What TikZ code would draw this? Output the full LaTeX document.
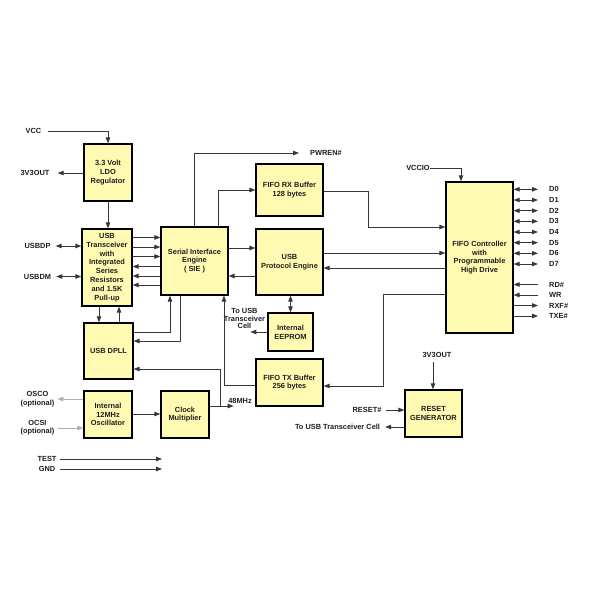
\documentclass[tikz,border=0pt]{standalone}
\usepackage{fontspec}
\setmainfont{Liberation Sans}
\usetikzlibrary{arrows.meta,calc}
\definecolor{boxfill}{RGB}{255,250,178}
\definecolor{ln}{RGB}{55,55,55}
\definecolor{lg}{RGB}{175,175,175}
\definecolor{tx}{RGB}{30,30,30}
\tikzset{
 blk/.style={draw=black, line width=1.2pt, fill=boxfill, inner sep=0pt, align=center, text=tx, font=\fontsize{7.4}{8.8}\selectfont\bfseries},
 lbl/.style={inner sep=0pt, align=center, text=tx, font=\fontsize{7.4}{8.5}\selectfont\bfseries},
 conn/.style={draw=ln, line width=0.9pt},
 arr/.style={conn, -{Triangle[length=6pt,width=4.5pt]}},
 darr/.style={conn, {Triangle[length=6pt,width=4.5pt]}-{Triangle[length=6pt,width=4.5pt]}},
 garr/.style={draw=lg, line width=0.9pt, -{Triangle[length=6pt,width=4.5pt]}},
}
\begin{document}
\begin{tikzpicture}[x=1pt,y=-1pt]
\fill[white] (0,0) rectangle (600,600);
\useasboundingbox (0,0) rectangle (600,600);

% blocks
\node[blk, minimum width=48, minimum height=57] (ldo) at (108,172.5) {3.3 Volt\\LDO\\Regulator};
\node[blk, minimum width=50, minimum height=77] (trx) at (107,267.5) {USB\\Transceiver\\with\\Integrated\\Series\\Resistors\\and 1.5K\\Pull-up};
\node[blk, minimum width=49, minimum height=56] (dpll) at (108.5,351) {USB DPLL};
\node[blk, minimum width=48, minimum height=47] (osc) at (108,414.5) {Internal\\12MHz\\Oscillator};
\node[blk, minimum width=48, minimum height=47] (clk) at (185,414.5) {Clock\\Multiplier};
\node[blk, minimum width=67, minimum height=68] (sie) at (194.5,261) {Serial Interface\\Engine\\( SIE )};
\node[blk, minimum width=67, minimum height=52] (rx) at (289.5,190) {FIFO RX Buffer\\128 bytes};
\node[blk, minimum width=67, minimum height=66] (upe) at (289.5,262) {USB\\Protocol Engine};
\node[blk, minimum width=45, minimum height=38] (eep) at (290.5,332) {Internal\\EEPROM};
\node[blk, minimum width=67, minimum height=47] (tx) at (289.5,382.5) {FIFO TX Buffer\\256 bytes};
\node[blk, minimum width=67, minimum height=151] (fifo) at (479.5,257.5) {FIFO Controller\\with\\Programmable\\High Drive};
\node[blk, minimum width=57, minimum height=47] (rst) at (433.5,413.5) {RESET\\GENERATOR};

% left side labels
\node[lbl] (vcc) at (33.5,131) {VCC};
\draw[arr] ($(vcc.east)+(6,0)$) -| (ldo.north);
\node[lbl] (v3) at (35,173) {3V3OUT};
\draw[arr] (ldo.west |- v3) -- ($(v3.east)+(8,0)$);
\draw[arr] (ldo.south) -- (trx.north -| ldo.south);
\node[lbl] (dp) at (37.5,246) {USBDP};
\draw[darr] ($(dp.east)+(5,0)$) -- (trx.west |- dp);
\node[lbl] (dm) at (37.5,276.5) {USBDM};
\draw[darr] ($(dm.east)+(5,0)$) -- (trx.west |- dm);

% transceiver <-> SIE
\foreach \y in {237.5,247,256.5} \draw[arr] (trx.east |- 0,\y) -- (sie.west |- 0,\y);
\foreach \y in {266.5,276,285} \draw[arr] (sie.west |- 0,\y) -- (trx.east |- 0,\y);

% transceiver <-> DPLL
\draw[arr] (trx.south -| 99,0) -- (dpll.north -| 99,0);
\draw[arr] (dpll.north -| 119,0) -- (trx.south -| 119,0);

% DPLL <-> SIE
\draw[arr] (dpll.east |- 0,332) -| (sie.south -| 170,0);
\draw[arr] (sie.south -| 180,0) |- (dpll.east |- 0,341);

% SIE top
\node[lbl, anchor=west] (pw) at (310,153) {PWREN\#};
\draw[arr] (sie.north) |- ($(pw.west)+(-11,0)$);
\draw[arr] (sie.north -| 218,0) |- (rx.west);

% SIE <-> UPE
\draw[arr] (sie.east |- 0,248) -- (upe.west |- 0,248);
\draw[arr] (upe.west |- 0,276) -- (sie.east |- 0,276);
\draw[darr] (upe.south -| eep.north) -- (eep.north);

% EEPROM to USB cell
\node[lbl, font=\fontsize{7.4}{7.6}\selectfont\bfseries] (tuc) at (244.5,318.5) {To USB\\Transceiver\\Cell};
\draw[arr] (eep.west) -- ++(-17,0);

% RX / UPE / TX <-> FIFO controller
\draw[arr] (rx.east |- 0,191) -| (368,227) -- (fifo.west |- 0,227);
\draw[arr] (upe.east |- 0,253) -- (fifo.west |- 0,253);
\draw[arr] (fifo.west |- 0,268) -- (upe.east |- 0,268);
\draw[arr] (fifo.west |- 0,294) -| (383,386) -- (tx.east |- 0,386);

% TX -> SIE
\draw[arr] (tx.west |- 0,385) -| (sie.south -| 224,0);

% oscillator, clock
\draw[arr] (osc.east |- 0,414) -- (clk.west |- 0,414);
\node[lbl] (osco) at (37.5,399) {OSCO\\(optional)};
\draw[garr] (osc.west |- 0,399) -- ++(-26,0);
\node[lbl] (osci) at (37.5,427.5) {OCSI\\(optional)};
\draw[garr] ($(osci.east |- 0,428)+(3.5,0)$) -- (osc.west |- 0,428);
\node[lbl] (mhz) at (240,400.5) {48MHz};
\coordinate (j48) at (220,406);
\draw[arr] (clk.east |- j48) -- ++(24,0);
\draw[arr] (j48) |- (dpll.east |- 0,369);

% TEST / GND
\coordinate (tl) at (60,0);
\node[lbl] (test) at (47,459) {TEST};
\draw[arr] (test -| tl) -- ++(102,0);
\node[lbl] (gnd) at (47,469) {GND};
\draw[arr] (gnd -| tl) -- ++(102,0);

% VCCIO
\node[lbl] (vccio) at (418,168) {VCCIO};
\draw[arr] (vccio.east) -| (fifo.north -| 461,0);

% data lines
\foreach \i/\y in {0/189.3,1/200,2/210.7,3/221.3,4/232,5/242.7,6/253.3,7/264} {
  \node[lbl, anchor=west] (d\i) at (549,\y) {D\i};
  \draw[darr] (fifo.east |- d\i) -- ($(d\i.west)+(-11,0)$);
}
\node[lbl, anchor=west] (rd) at (549,284.5) {RD\#};
\draw[arr] ($(rd.west)+(-11,0)$) -- (fifo.east |- rd);
\node[lbl, anchor=west] (wr) at (549,295) {WR};
\draw[arr] ($(wr.west |- 0,295)+(-11,0)$) -- (fifo.east |- 0,295);
\node[lbl, anchor=west] (rxf) at (549,305.5) {RXF\#};
\draw[arr] (fifo.east |- rxf) -- ($(rxf.west)+(-11,0)$);
\node[lbl, anchor=west] (txe) at (549,316) {TXE\#};
\draw[arr] (fifo.east |- txe) -- ($(txe.west)+(-11,0)$);

% reset
\node[lbl] (v3b) at (437,355) {3V3OUT};
\draw[arr] ($(v3b.south -| 433,0)+(0,4)$) -- (rst.north -| 433,0);
\node[lbl] (rs) at (367,410) {RESET\#};
\draw[arr] ($(rs.east)+(4,0)$) -- (rst.west |- rs);
\node[lbl] (tuc2) at (337.5,427) {To USB Transceiver Cell};
\draw[arr] (rst.west |- tuc2) -- ($(tuc2.east)+(5,0)$);
\end{tikzpicture}
\end{document}
